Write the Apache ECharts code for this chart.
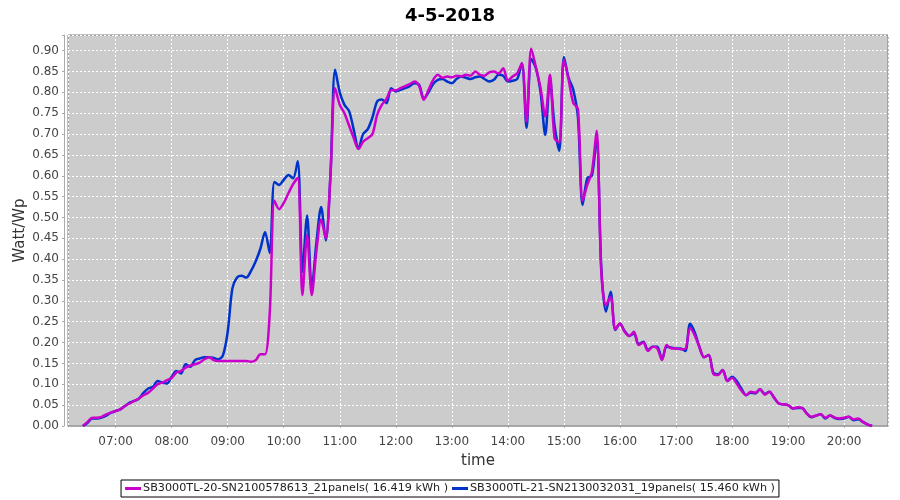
<!DOCTYPE html>
<html><head><meta charset="utf-8">
<script src="https://cdn.jsdelivr.net/npm/echarts@6/dist/echarts.min.js"></script>
<style>html,body{margin:0;padding:0;background:#fff}#chart{width:900px;height:500px}</style>
</head><body><div id="chart"></div>
<script>
// ---- data ----
const titleText = '4-5-2018';
const dayYear = 2018, dayMonth = 4, dayDate = 5;
const sampleStart = '06:25';      // first sample
const sampleStepMinutes = 5;      // logger interval
const axisStart = '06:09';
const axisEnd = '20:47';
const seriesNames = [
  'SB3000TL-20-SN2100578613_21panels( 16.419 kWh )',
  'SB3000TL-21-SN2130032031_19panels( 15.460 kWh )'
];
// SB3000TL-20 (magenta), one row per hour
const values20 = [
  0.00, 0.01, 0.02, 0.02, 0.022, 0.028, 0.032,                                  // 06:25-06:55
  0.036, 0.04, 0.048, 0.054, 0.06, 0.066, 0.074, 0.08, 0.09, 0.1, 0.104, 0.11,  // 07
  0.115, 0.128, 0.132, 0.14, 0.145, 0.148, 0.152, 0.16, 0.165, 0.158, 0.156, 0.156, // 08
  0.156, 0.156, 0.156, 0.156, 0.156, 0.154, 0.158, 0.172, 0.172, 0.27, 0.54, 0.52,  // 09
  0.535, 0.558, 0.58, 0.595, 0.314, 0.458, 0.314, 0.42, 0.495, 0.45, 0.60, 0.81,    // 10
  0.77, 0.75, 0.72, 0.69, 0.664, 0.682, 0.69, 0.70, 0.746, 0.77, 0.784, 0.805,      // 11
  0.805, 0.81, 0.815, 0.82, 0.826, 0.815, 0.782, 0.806, 0.83, 0.842, 0.835, 0.838,  // 12
  0.836, 0.84, 0.838, 0.842, 0.84, 0.85, 0.842, 0.84, 0.848, 0.85, 0.845, 0.858,    // 13
  0.828, 0.838, 0.846, 0.87, 0.73, 0.905, 0.86, 0.81, 0.742, 0.842, 0.69, 0.68,     // 14
  0.878, 0.83, 0.775, 0.76, 0.54, 0.578, 0.61, 0.708, 0.37, 0.29, 0.31, 0.232,      // 15
  0.246, 0.226, 0.216, 0.226, 0.194, 0.2, 0.18, 0.19, 0.186, 0.158, 0.194, 0.186,   // 16
  0.186, 0.184, 0.185, 0.235, 0.218, 0.19, 0.165, 0.17, 0.125, 0.122, 0.134, 0.108, // 17
  0.115, 0.102, 0.085, 0.074, 0.082, 0.08, 0.088, 0.075, 0.082, 0.068, 0.054, 0.052, // 18
  0.05, 0.042, 0.045, 0.043, 0.03, 0.022, 0.025, 0.028, 0.02, 0.025, 0.02, 0.018,   // 19
  0.02, 0.022, 0.016, 0.018, 0.01, 0.004, 0.0                                       // 20:00-20:30
];
// SB3000TL-21 (blue)
const values21 = [
  0.00, 0.008, 0.018, 0.018, 0.02, 0.025, 0.032,                                   // 06:25-06:55
  0.036, 0.04, 0.048, 0.056, 0.06, 0.066, 0.08, 0.09, 0.094, 0.108, 0.104, 0.102,   // 07
  0.118, 0.132, 0.126, 0.148, 0.142, 0.158, 0.162, 0.165, 0.165, 0.163, 0.16, 0.17, // 08
  0.226, 0.33, 0.356, 0.36, 0.356, 0.372, 0.395, 0.425, 0.465, 0.415, 0.585, 0.578, // 09
  0.59, 0.602, 0.594, 0.635, 0.37, 0.505, 0.33, 0.44, 0.525, 0.445, 0.60, 0.854,    // 10
  0.80, 0.77, 0.755, 0.71, 0.666, 0.70, 0.712, 0.74, 0.778, 0.783, 0.774, 0.81,     // 11
  0.802, 0.806, 0.81, 0.815, 0.822, 0.818, 0.785, 0.80, 0.82, 0.83, 0.832, 0.826,  // 12
  0.822, 0.832, 0.838, 0.835, 0.832, 0.836, 0.838, 0.832, 0.826, 0.83, 0.842, 0.84, // 13
  0.826, 0.828, 0.832, 0.87, 0.715, 0.88, 0.858, 0.80, 0.698, 0.83, 0.72, 0.66,     // 14
  0.885, 0.835, 0.806, 0.74, 0.53, 0.594, 0.60, 0.69, 0.38, 0.274, 0.322, 0.23,     // 15
  0.245, 0.228, 0.216, 0.222, 0.196, 0.202, 0.182, 0.19, 0.19, 0.16, 0.19, 0.188,   // 16
  0.186, 0.186, 0.18, 0.245, 0.225, 0.19, 0.165, 0.17, 0.128, 0.124, 0.134, 0.108,  // 17
  0.118, 0.108, 0.09, 0.074, 0.08, 0.078, 0.088, 0.077, 0.082, 0.068, 0.054, 0.052, // 18
  0.05, 0.042, 0.043, 0.043, 0.03, 0.021, 0.025, 0.028, 0.018, 0.025, 0.019, 0.017, // 19
  0.018, 0.022, 0.014, 0.016, 0.01, 0.004, 0.0                                      // 20:00-20:30
];
const yMin = 0, yMax = 0.9375, yStep = 0.05;
const xName = 'time', yName = 'Watt/Wp';

// ---- build ----
function toDate(hhmm, extraMin) {
  const [h, m] = hhmm.split(':').map(Number);
  const tot = h * 60 + m + (extraMin || 0);
  return new Date(dayYear, dayMonth - 1, dayDate, Math.floor(tot / 60), tot % 60).getTime();
}
function pairs(vals) {
  return vals.map((v, i) => [toDate(sampleStart, i * sampleStepMinutes), v]);
}
const FONT = 'DejaVu Sans';
const chart = echarts.init(document.getElementById('chart'), null, {renderer: 'canvas'});
const pad = n => (n < 10 ? '0' : '') + n;
chart.setOption({
  backgroundColor: '#ffffff',
  animation: false,
  title: {
    text: titleText, left: 'center', top: 2,
    textStyle: {fontFamily: FONT, fontSize: 18, fontWeight: 'bold', color: '#000'}
  },
  grid: {
    left: 68, right: 12, top: 35, bottom: 74, containLabel: false,
    show: true, backgroundColor: '#cccccc', borderColor: '#7a7a7a', borderWidth: 1
  },
  legend: {
    bottom: 3, left: 'center',
    data: seriesNames,
    borderColor: '#000', borderWidth: 1, padding: [3, 4, 3, 4],
    itemGap: 4, itemWidth: 16, itemHeight: 3, icon: 'rect',
    textStyle: {fontFamily: FONT, fontSize: 11.2, color: '#222', padding: [0, 0, 0, -3]}
  },
  xAxis: {
    type: 'time',
    min: toDate(axisStart), max: toDate(axisEnd),
    minInterval: 3600000, maxInterval: 3600000,
    offset: 4,
    name: xName, nameLocation: 'middle', nameGap: 24, nameMoveOverlap: false,
    nameTextStyle: {fontFamily: FONT, fontSize: 15, color: '#333'},
    axisLine: {show: true, lineStyle: {color: '#aaaaaa', width: 1}},
    axisTick: {show: true, length: 2, lineStyle: {color: '#aaaaaa'}},
    axisLabel: {
      fontFamily: FONT, fontSize: 12, color: '#444', margin: 6,
      showMinLabel: false, showMaxLabel: false,
      formatter: v => { const d = new Date(v); return pad(d.getHours()) + ':' + pad(d.getMinutes()); }
    },
    splitLine: {show: true, lineStyle: {color: '#ffffff', type: [2, 2], width: 1}}
  },
  yAxis: {
    type: 'value', min: yMin, max: yMax, interval: yStep,
    offset: 4,
    name: yName, nameLocation: 'middle', nameGap: 36, nameMoveOverlap: false,
    nameTextStyle: {fontFamily: FONT, fontSize: 15, color: '#333'},
    axisLine: {show: true, lineStyle: {color: '#aaaaaa', width: 1}},
    axisTick: {show: true, length: 2, lineStyle: {color: '#aaaaaa'}},
    axisLabel: {
      fontFamily: FONT, fontSize: 12, color: '#444', margin: 5,
      formatter: v => (Math.abs(v / yStep - Math.round(v / yStep)) < 1e-6 ? v.toFixed(2) : '')
    },
    splitLine: {show: true, lineStyle: {color: '#ffffff', type: [2, 2], width: 1}}
  },
  series: [
    {
      name: seriesNames[0], type: 'line', data: pairs(values20), z: 4,
      smooth: 0.3, showSymbol: false, color: '#cc00cc',
      lineStyle: {width: 2.5, color: '#cc00cc'}
    },
    {
      name: seriesNames[1], type: 'line', data: pairs(values21), z: 3,
      smooth: 0.3, showSymbol: false, color: '#0033cc',
      lineStyle: {width: 2.5, color: '#0033cc'}
    }
  ]
});
</script></body></html>
